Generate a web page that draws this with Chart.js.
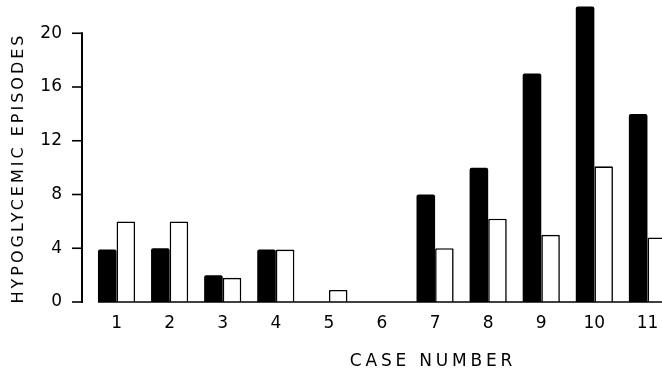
<!DOCTYPE html>
<html>
<head>
<meta charset="utf-8">
<script src="https://cdn.jsdelivr.net/npm/chart.js@4/dist/chart.umd.min.js"></script>
<style>
  html, body { margin: 0; padding: 0; background: #fff; overflow: hidden; }
  #wrap { position: relative; width: 676px; height: 375px; }
</style>
</head>
<body>
<div id="wrap"><canvas id="c" width="676" height="375"></canvas></div>
<script>
// Hypoglycemic episodes per case: solid bars and open bars
const caseNumbers = ['1', '2', '3', '4', '5', '6', '7', '8', '9', '10', '11'];
const solidEpisodes = [3.9, 4, 2, 3.9, 0, 0, 8, 10, 17, 22, 14];
const openEpisodes = [6, 6, 1.8, 3.9, 0.9, 0, 4, 6.2, 5, 10.1, 4.8];
const yTickValues = [0, 4, 8, 12, 16, 20];
const yTitle = 'HYPOGLYCEMIC EPISODES';
const xTitle = 'CASE NUMBER';

const FONT = '"DejaVu Sans", sans-serif';

// Axis line with outward ticks, baseline under the bars, and spaced axis titles
const framePlugin = {
  id: 'frame',
  afterDatasetsDraw(chart) {
    const { ctx, scales: { y } } = chart;
    const axisX = chart.chartArea.left - 8;
    const yTop = y.getPixelForValue(yTickValues[yTickValues.length - 1]);
    const y0 = y.getPixelForValue(0);
    ctx.save();
    ctx.strokeStyle = '#000';
    ctx.lineWidth = 2;
    ctx.beginPath();
    ctx.moveTo(axisX, yTop - 1);
    ctx.lineTo(axisX, y0 + 1);
    ctx.stroke();
    ctx.lineWidth = 1.6;
    yTickValues.forEach(v => {
      const py = y.getPixelForValue(v);
      ctx.beginPath();
      ctx.moveTo(axisX - 10, py);
      ctx.lineTo(axisX, py);
      ctx.stroke();
    });
    const first = chart.getDatasetMeta(0).data[0];
    ctx.beginPath();
    ctx.moveTo(first.x - first.width / 2, y0);
    ctx.lineTo(chart.width, y0);
    ctx.stroke();

    ctx.fillStyle = '#000';
    ctx.textAlign = 'center';
    ctx.textBaseline = 'middle';
    ctx.font = '16px ' + FONT;
    ctx.letterSpacing = '3px';
    ctx.save();
    ctx.translate(19, 168);
    ctx.rotate(-Math.PI / 2);
    ctx.fillText(yTitle, 0, 0);
    ctx.restore();
    ctx.font = '17px ' + FONT;
    ctx.letterSpacing = '3.8px';
    ctx.fillText(xTitle, 433, 362);
    ctx.restore();
  }
};

new Chart(document.getElementById('c'), {
  type: 'bar',
  data: {
    labels: caseNumbers,
    datasets: [
      {
        data: solidEpisodes,
        backgroundColor: '#000',
        borderWidth: 0,
        borderRadius: { topLeft: 2, topRight: 2 },
        borderSkipped: 'bottom'
      },
      {
        data: openEpisodes,
        backgroundColor: '#fff',
        borderColor: '#000',
        borderWidth: 1.6,
        borderRadius: { topLeft: 1, topRight: 1 },
        borderSkipped: 'bottom'
      }
    ]
  },
  options: {
    responsive: false,
    animation: false,
    devicePixelRatio: 1,
    layout: { padding: { top: 1, right: 2, left: 0, bottom: 0 } },
    datasets: { bar: { categoryPercentage: 0.7, barPercentage: 1.0 } },
    plugins: { legend: { display: false }, tooltip: { enabled: false } },
    scales: {
      x: {
        grid: { display: false, drawTicks: false },
        border: { display: false },
        ticks: {
          color: '#000',
          font: { family: FONT, size: 17 },
          padding: 11,
          maxRotation: 0,
          autoSkip: false
        },
        afterFit(s) { s.height = 73; s.paddingLeft = 0; s.paddingRight = 0; }
      },
      y: {
        min: 0,
        max: 22.4,
        grid: { display: false, drawTicks: false },
        border: { display: false },
        ticks: {
          color: '#000',
          font: { family: FONT, size: 17 },
          padding: 28
        },
        afterBuildTicks(s) { s.ticks = yTickValues.map(v => ({ value: v })); },
        afterFit(s) { s.width = 90; s.paddingTop = 0; s.paddingBottom = 0; }
      }
    }
  },
  plugins: [framePlugin]
});
</script>
</body>
</html>
